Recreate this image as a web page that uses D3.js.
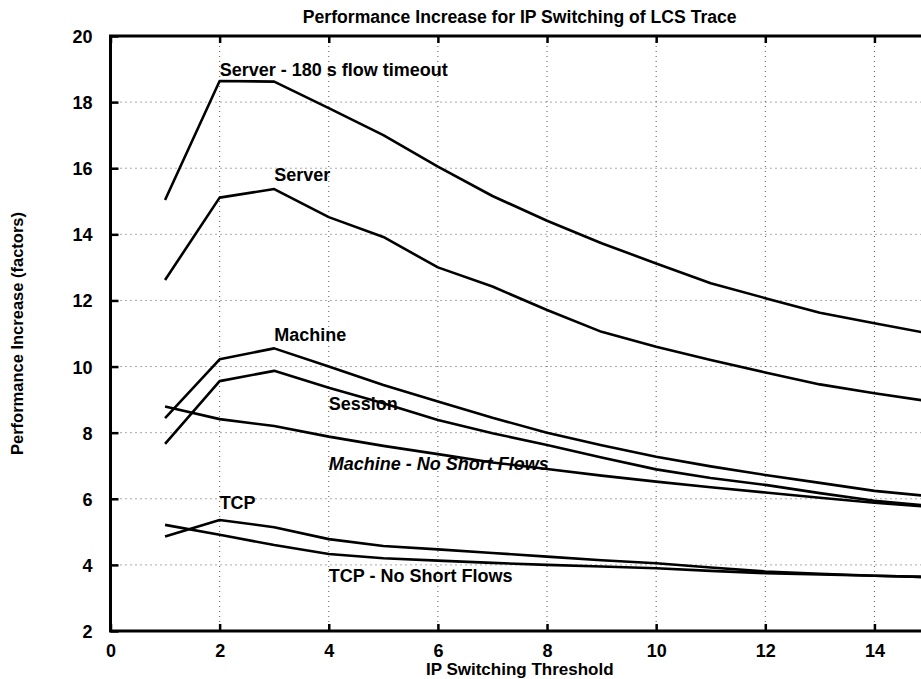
<!DOCTYPE html>
<html>
<head>
<meta charset="utf-8">
<script src="https://cdn.jsdelivr.net/npm/d3@7"></script>
<style>
  body { margin: 0; background: #fff; }
  text { font-family: "Liberation Sans", Arial, Helvetica, sans-serif; font-weight: bold; fill: #000; }
</style>
</head>
<body>
<div id="chart"></div>
<script>
// thresholds on the x axis
const thresholds = [1, 2, 3, 4, 5, 6, 7, 8, 9, 10, 11, 12, 13, 14, 15];

// performance increase (factors)
const server180 = [15.04, 18.64, 18.62, 17.82, 17.0, 16.05, 15.16, 14.41, 13.73, 13.12, 12.52, 12.07, 11.63, 11.31, 11.0];
const server = [12.62, 15.11, 15.37, 14.52, 13.92, 13.0, 12.42, 11.71, 11.05, 10.6, 10.2, 9.82, 9.46, 9.19, 8.95];
const machine = [8.44, 10.22, 10.55, 10.0, 9.44, 8.94, 8.45, 8.0, 7.62, 7.27, 6.98, 6.72, 6.48, 6.24, 6.08];
const session = [7.66, 9.56, 9.87, 9.36, 8.89, 8.38, 7.98, 7.63, 7.25, 6.89, 6.63, 6.42, 6.17, 5.94, 5.79];
const machineNoShort = [8.79, 8.41, 8.2, 7.88, 7.6, 7.35, 7.1, 6.9, 6.7, 6.52, 6.35, 6.19, 6.03, 5.88, 5.76];
const tcp = [4.86, 5.36, 5.14, 4.78, 4.57, 4.47, 4.36, 4.25, 4.14, 4.05, 3.92, 3.8, 3.73, 3.67, 3.63];
const tcpNoShort = [5.21, 4.91, 4.6, 4.33, 4.2, 4.13, 4.06, 4.0, 3.95, 3.9, 3.82, 3.75, 3.71, 3.67, 3.63];

const seriesList = [server180, server, machine, session, machineNoShort, tcp, tcpNoShort];

// curve labels, placed in data coordinates like the original plot
const labelText = ["Server - 180 s flow timeout", "Server", "Machine", "Session", "Machine - No Short Flows", "TCP", "TCP - No Short Flows"];
const labelX = [2, 3, 3, 4, 4, 2, 4];
const labelY = [18.79, 15.6, 10.78, 8.7, 6.87, 5.68, 3.49];

const xTicks = [0, 2, 4, 6, 8, 10, 12, 14];
const yTicks = [2, 4, 6, 8, 10, 12, 14, 16, 18, 20];

let width = 921, height = 679;
let plot = { left: 110.5, right: 929, top: 36, bottom: 631 };

let svg = d3.select("#chart")
    .append('svg')
    .attr('width', width)
    .attr('height', height)

const x = d3.scaleLinear().domain([0, 15]).range([plot.left, plot.right]);
const y = d3.scaleLinear().domain([2, 20]).range([plot.bottom, plot.top]);

// dotted grid
const grid = svg.append('g')
    .attr('stroke', '#555')
    .attr('stroke-width', 1)
    .attr('stroke-dasharray', '1,4')

grid.selectAll('.vgrid')
    .data(xTicks.filter(d => d > 0))
    .enter()
    .append('line')
    .attr('x1', d => x(d)).attr('x2', d => x(d))
    .attr('y1', plot.top).attr('y2', plot.bottom)

grid.selectAll('.hgrid')
    .data(yTicks.filter(d => d > 2 && d < 20))
    .enter()
    .append('line')
    .attr('x1', plot.left).attr('x2', plot.right)
    .attr('y1', d => y(d)).attr('y2', d => y(d))

// axes with inward ticks
const xAxis = svg.append('g')
    .attr('transform', 'translate(0,' + plot.bottom + ')')
    .call(d3.axisBottom(x).tickValues(xTicks).tickSize(-7).tickPadding(13).tickFormat(d3.format('d')))

const xAxisTop = svg.append('g')
    .attr('transform', 'translate(0,' + plot.top + ')')
    .call(d3.axisTop(x).tickValues(xTicks).tickSize(-7).tickFormat(''))

const yAxis = svg.append('g')
    .attr('transform', 'translate(' + plot.left + ',0)')
    .call(d3.axisLeft(y).tickValues(yTicks).tickSize(-8).tickPadding(18).tickFormat(d3.format('d')))

svg.selectAll('.domain').remove()
svg.selectAll('.tick line').attr('stroke', '#000').attr('stroke-width', 2.5)
svg.selectAll('.tick text')
    .attr('font-size', 18)
    .attr('font-family', '"Liberation Sans", Arial, sans-serif')
    .attr('font-weight', 'bold')
    .attr('fill', '#000')
yAxis.selectAll('.tick text').attr('dy', '0.36em')

// plot frame
svg.append('path')
    .attr('d', 'M' + plot.right + ',' + plot.top + 'H' + plot.left + 'V' + plot.bottom + 'H' + plot.right)
    .attr('fill', 'none')
    .attr('stroke', '#000')
    .attr('stroke-width', 3)

// curves
const line = d3.line()
    .x((d, i) => x(thresholds[i]))
    .y(d => y(d))

svg.append('g')
    .selectAll('path')
    .data(seriesList)
    .enter()
    .append('path')
    .attr('d', line)
    .attr('fill', 'none')
    .attr('stroke', '#000')
    .attr('stroke-width', 2.6)
    .attr('stroke-linejoin', 'round')

svg.append('g')
    .selectAll('text')
    .data(labelText)
    .enter()
    .append('text')
    .attr('x', (d, i) => x(labelX[i]))
    .attr('y', (d, i) => y(labelY[i]))
    .attr('font-size', 18)
    .attr('font-style', d => d === 'Machine - No Short Flows' ? 'italic' : 'normal')
    .text(d => d)

// titles
svg.append('text')
    .attr('x', (plot.left + plot.right) / 2)
    .attr('y', 23)
    .attr('text-anchor', 'middle')
    .attr('font-size', 17.6)
    .text('Performance Increase for IP Switching of LCS Trace')

svg.append('text')
    .attr('x', (plot.left + plot.right) / 2)
    .attr('y', 675)
    .attr('text-anchor', 'middle')
    .attr('font-size', 17)
    .text('IP Switching Threshold')

svg.append('text')
    .attr('transform', 'translate(23,' + ((plot.top + plot.bottom) / 2) + ') rotate(-90)')
    .attr('text-anchor', 'middle')
    .attr('font-size', 16.5)
    .text('Performance Increase (factors)')
</script>
</body>
</html>
